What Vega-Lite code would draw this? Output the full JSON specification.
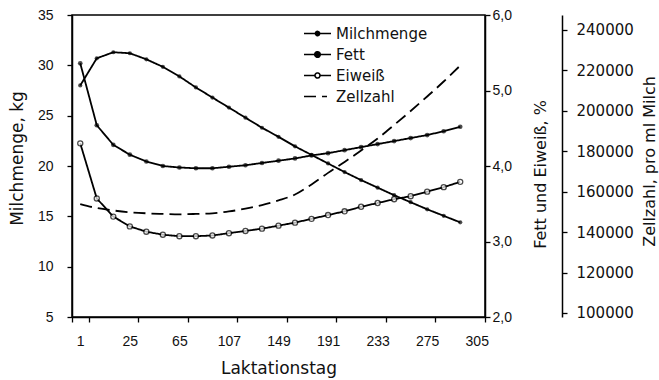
{
  "$schema": "https://vega.github.io/schema/vega-lite/v6.json",
  "width": 413,
  "height": 302,
  "autosize": "none",
  "padding": {"left": 72, "top": 15, "right": 174, "bottom": 63},
  "background": "white",
  "data": {"values": [
    {"tag": 1, "milch": 28.0, "fett": 5.36, "eiweiss": 4.30, "zell": 153900},
    {"tag": 9, "milch": 30.7, "fett": 4.54, "eiweiss": 3.57, "zell": 151900},
    {"tag": 17, "milch": 31.3, "fett": 4.28, "eiweiss": 3.33, "zell": 150700},
    {"tag": 25, "milch": 31.2, "fett": 4.15, "eiweiss": 3.20, "zell": 149800},
    {"tag": 38, "milch": 30.6, "fett": 4.06, "eiweiss": 3.13, "zell": 149300},
    {"tag": 51, "milch": 29.85, "fett": 4.00, "eiweiss": 3.09, "zell": 149000},
    {"tag": 65, "milch": 28.9, "fett": 3.98, "eiweiss": 3.07, "zell": 148800},
    {"tag": 79, "milch": 27.8, "fett": 3.97, "eiweiss": 3.07, "zell": 149000},
    {"tag": 93, "milch": 26.8, "fett": 3.97, "eiweiss": 3.08, "zell": 149300},
    {"tag": 107, "milch": 25.8, "fett": 3.99, "eiweiss": 3.11, "zell": 150200},
    {"tag": 121, "milch": 24.8, "fett": 4.01, "eiweiss": 3.14, "zell": 151600},
    {"tag": 135, "milch": 23.8, "fett": 4.04, "eiweiss": 3.17, "zell": 153400},
    {"tag": 149, "milch": 22.9, "fett": 4.07, "eiweiss": 3.21, "zell": 155700},
    {"tag": 163, "milch": 21.95, "fett": 4.10, "eiweiss": 3.25, "zell": 158600},
    {"tag": 177, "milch": 21.1, "fett": 4.14, "eiweiss": 3.30, "zell": 163600},
    {"tag": 191, "milch": 20.25, "fett": 4.17, "eiweiss": 3.35, "zell": 169300},
    {"tag": 205, "milch": 19.4, "fett": 4.21, "eiweiss": 3.40, "zell": 174700},
    {"tag": 219, "milch": 18.6, "fett": 4.25, "eiweiss": 3.46, "zell": 180400},
    {"tag": 233, "milch": 17.85, "fett": 4.29, "eiweiss": 3.51, "zell": 186300},
    {"tag": 247, "milch": 17.1, "fett": 4.33, "eiweiss": 3.56, "zell": 193000},
    {"tag": 261, "milch": 16.4, "fett": 4.37, "eiweiss": 3.60, "zell": 199900},
    {"tag": 275, "milch": 15.7, "fett": 4.41, "eiweiss": 3.66, "zell": 207100},
    {"tag": 285, "milch": 15.05, "fett": 4.46, "eiweiss": 3.72, "zell": 214500},
    {"tag": 295, "milch": 14.4, "fett": 4.52, "eiweiss": 3.79, "zell": 222400}
  ]},
  "encoding": {
    "x": {
      "field": "tag",
      "type": "ordinal",
      "bandPosition": 0.5,
      "scale": {"type": "band", "paddingInner": 0, "paddingOuter": 0,
        "domain": [1, 9, 17, 25, 38, 51, 65, 79, 93, 107, 121, 135, 149, 163, 177, 191, 205, 219, 233, 247, 261, 275, 285, 295, 305]},
      "axis": {
        "title": "Laktationstag",
        "values": [1, 25, 65, 107, 149, 191, 233, 275, 305],
        "labelAngle": 0,
        "tickBand": "extent",
        "tickSize": 5,
        "labelPadding": 12,
        "labelFont": "Liberation Sans",
        "labelFontSize": 14,
        "titleFontSize": 17,
        "titleFontWeight": "normal",
        "titleBaseline": "middle",
        "titleY": 51
      }
    }
  },
  "layer": [
    {
      "layer": [
        {
          "mark": {"type": "line", "color": "black", "strokeWidth": 1.8},
          "encoding": {
            "y": {"field": "milch", "type": "quantitative",
              "scale": {"domain": [5, 35], "nice": false, "zero": false},
              "axis": {"orient": "left", "title": "Milchmenge, kg", "values": [5, 10, 15, 20, 25, 30, 35],
                "tickSize": 5, "labelPadding": 14, "labelFont": "Liberation Sans", "labelFontSize": 14,
                "titleFontSize": 17, "titleFontWeight": "normal", "titleAngle": 270, "titleBaseline": "middle",
                "titleX": -55, "titleY": 143}},
            "strokeDash": {"datum": "Milchmenge",
              "scale": {"domain": ["Milchmenge", "Fett", "Eiweiß", "Zellzahl"], "range": [[1, 0], [1, 0], [1, 0], [12, 6]]},
              "legend": {
                "title": null,
                "orient": "none",
                "legendX": 238,
                "legendY": 11,
                "padding": 0,
                "symbolSize": 100,
                "symbolStrokeWidth": 1.6,
                "symbolStrokeColor": "black",
                "labelFont": "DejaVu Sans",
                "labelFontSize": 15,
                "labelOffset": 11,
                "rowPadding": 5,
                "encode": {
                  "symbols": {
                    "update": {
                      "shape": {"signal": "datum.value === 'Zellzahl' ? 'M-2.7,0H1.9' : (datum.value === 'Eiweiß' ? 'M-2.7,0H-0.5M0.5,0H2.7M0.5,0A0.5,0.5,0,1,1,-0.5,0A0.5,0.5,0,1,1,0.5,0Z' : (datum.value === 'Fett' ? 'M-2.7,0H2.7M0.55,0A0.55,0.55,0,1,1,-0.55,0A0.55,0.55,0,1,1,0.55,0Z' : 'M-2.7,0H2.7M0.42,0A0.42,0.42,0,1,1,-0.42,0A0.42,0.42,0,1,1,0.42,0Z'))"},
                      "fill": {"signal": "datum.value === 'Eiweiß' ? 'white' : (datum.value === 'Zellzahl' ? 'transparent' : 'black')"},
                      "stroke": {"value": "black"},
                      "strokeDash": {"signal": "datum.value === 'Zellzahl' ? [8, 5] : [1, 0]"}
                    }
                  }
                }
              }
            }
          }
        },
        {
          "mark": {"type": "point", "filled": true, "color": "black", "size": 18, "shape": "circle"},
          "encoding": {"y": {"field": "milch", "type": "quantitative"}}
        }
      ]
    },
    {
      "layer": [
        {
          "mark": {"type": "line", "color": "black", "strokeWidth": 1.8},
          "encoding": {
            "y": {"field": "fett", "type": "quantitative",
              "scale": {"domain": [2, 6], "nice": false, "zero": false},
              "axis": {"orient": "right", "title": "Fett und Eiweiß, %", "values": [2, 3, 4, 5, 6],
                "labelExpr": "replace(format(datum.value, '.1f'), '.', ',')",
                "tickSize": 5, "labelPadding": 2, "labelFont": "Liberation Sans", "labelFontSize": 14,
                "titleFontSize": 16, "titleFontWeight": "normal", "titleAngle": 270, "titleBaseline": "middle",
                "titleX": 55, "titleY": 159}},
            "strokeDash": {"datum": "Fett"}
          }
        },
        {
          "mark": {"type": "point", "filled": true, "color": "black", "size": 22, "shape": "circle"},
          "encoding": {"y": {"field": "fett", "type": "quantitative"}}
        },
        {
          "mark": {"type": "line", "color": "black", "strokeWidth": 1.8},
          "encoding": {
            "y": {"field": "eiweiss", "type": "quantitative", "axis": {"title": "Fett und Eiweiß, %"}},
            "strokeDash": {"datum": "Eiweiß"}
          }
        },
        {
          "mark": {"type": "point", "filled": true, "fill": "white", "stroke": "black", "strokeWidth": 1.3, "size": 26, "shape": "circle"},
          "encoding": {"y": {"field": "eiweiss", "type": "quantitative"}}
        }
      ]
    },
    {
      "layer": [
        {
          "mark": {"type": "line", "color": "black", "strokeWidth": 1.8, "interpolate": "monotone"},
          "encoding": {
            "y": {"field": "zell", "type": "quantitative",
              "scale": {"domain": [98000, 247400], "nice": false, "zero": false},
              "axis": {"orient": "right", "offset": 77, "title": "Zellzahl, pro ml Milch",
                "values": [100000, 120000, 140000, 160000, 180000, 200000, 220000, 240000],
                "format": "d",
                "tickSize": 5, "labelPadding": 9, "labelFont": "DejaVu Sans", "labelFontSize": 15,
                "titleFontSize": 16, "titleFontWeight": "normal", "titleAngle": 270, "titleBaseline": "middle",
                "titleX": 87, "titleY": 146}},
            "strokeDash": {"datum": "Zellzahl"}
          }
        }
      ]
    }
  ],
  "resolve": {"scale": {"y": "independent"}},
  "config": {
    "font": "DejaVu Sans",
    "view": {"stroke": "black", "strokeWidth": 1.5},
    "axis": {
      "grid": false,
      "domainColor": "black",
      "domainWidth": 1.5,
      "tickColor": "black",
      "tickWidth": 1.3,
      "labelColor": "#111",
      "titleColor": "#111"
    },
    "legend": {"labelColor": "#111"}
  }
}
